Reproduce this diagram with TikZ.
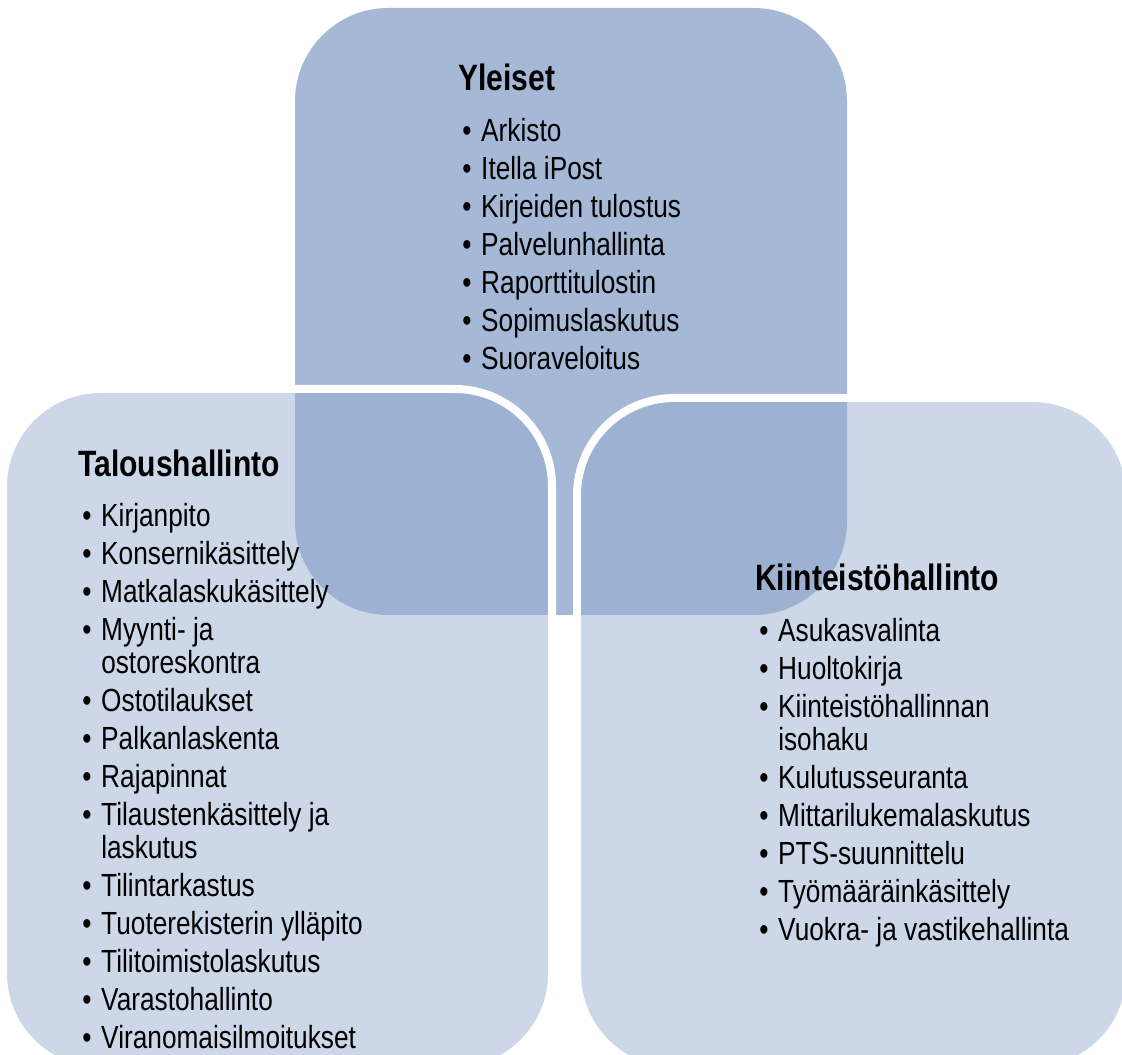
\documentclass[tikz,border=0pt]{standalone}
\usepackage{fontspec}
\setmainfont{Liberation Sans}[FakeStretch=0.82]
\definecolor{topblue}{RGB}{165,185,215}
\definecolor{lowblue}{RGB}{149,172,205}
\newcommand{\bitem}[1]{\par\noindent\hangindent=17.25pt\hangafter=1\hspace*{3pt}\makebox[14.25pt][l]{\textbullet}#1}
\newcommand{\nl}{\hfil\break}
\begin{document}
\begin{tikzpicture}[x=0.75pt, y=-0.75pt,
  head/.style={anchor=base west, inner sep=0pt, font=\fontsize{27.5}{30}\selectfont\bfseries},
  items/.style={anchor=north west, inner sep=0pt, text width=260pt, align=left, font=\fontsize{24}{24.75}\selectfont},
  lowbox/.style={fill=lowblue, fill opacity=0.48, draw=white, line width=6pt, rounded corners=73pt}]
\useasboundingbox (0,0) rectangle (1122,1055);
\fill[topblue, rounded corners=70pt] (295,8) rectangle (847,615);
\draw[lowbox] (3,389) rectangle (552,1071);
\draw[lowbox] (577,398) rectangle (1130,1071);
\node[head] (yleiset) at (458,91) {Yleiset};
\node[items] (ylist) at (458,103) {\setlength{\parskip}{3.75pt}\spaceskip=0pt\xspaceskip=0pt%
\bitem{Arkisto}
\bitem{Itella iPost}
\bitem{Kirjeiden tulostus}
\bitem{Palvelunhallinta}
\bitem{Raporttitulostin}
\bitem{Sopimuslaskutus}
\bitem{Suoraveloitus}};
\node[head] (talous) at (78,477) {Taloushallinto};
\node[items] (tlist) at (78,488) {\setlength{\parskip}{3.75pt}\spaceskip=0pt\xspaceskip=0pt%
\bitem{Kirjanpito}
\bitem{Konsernikäsittely}
\bitem{Matkalaskukäsittely}
\bitem{Myynti- ja\nl ostoreskontra}
\bitem{Ostotilaukset}
\bitem{Palkanlaskenta}
\bitem{Rajapinnat}
\bitem{Tilaustenkäsittely ja\nl laskutus}
\bitem{Tilintarkastus}
\bitem{Tuoterekisterin ylläpito}
\bitem{Tilitoimistolaskutus}
\bitem{Varastohallinto}
\bitem{Viranomaisilmoitukset}};
\node[head] (kiint) at (755,591) {Kiinteistöhallinto};
\node[items] (klist) at (755,603) {\setlength{\parskip}{3.75pt}\spaceskip=0pt\xspaceskip=0pt%
\bitem{Asukasvalinta}
\bitem{Huoltokirja}
\bitem{Kiinteistöhallinnan\nl isohaku}
\bitem{Kulutusseuranta}
\bitem{Mittarilukemalaskutus}
\bitem{PTS-suunnittelu}
\bitem{Työmääräinkäsittely}
\bitem{Vuokra- ja vastikehallinta}};
\end{tikzpicture}
\end{document}
